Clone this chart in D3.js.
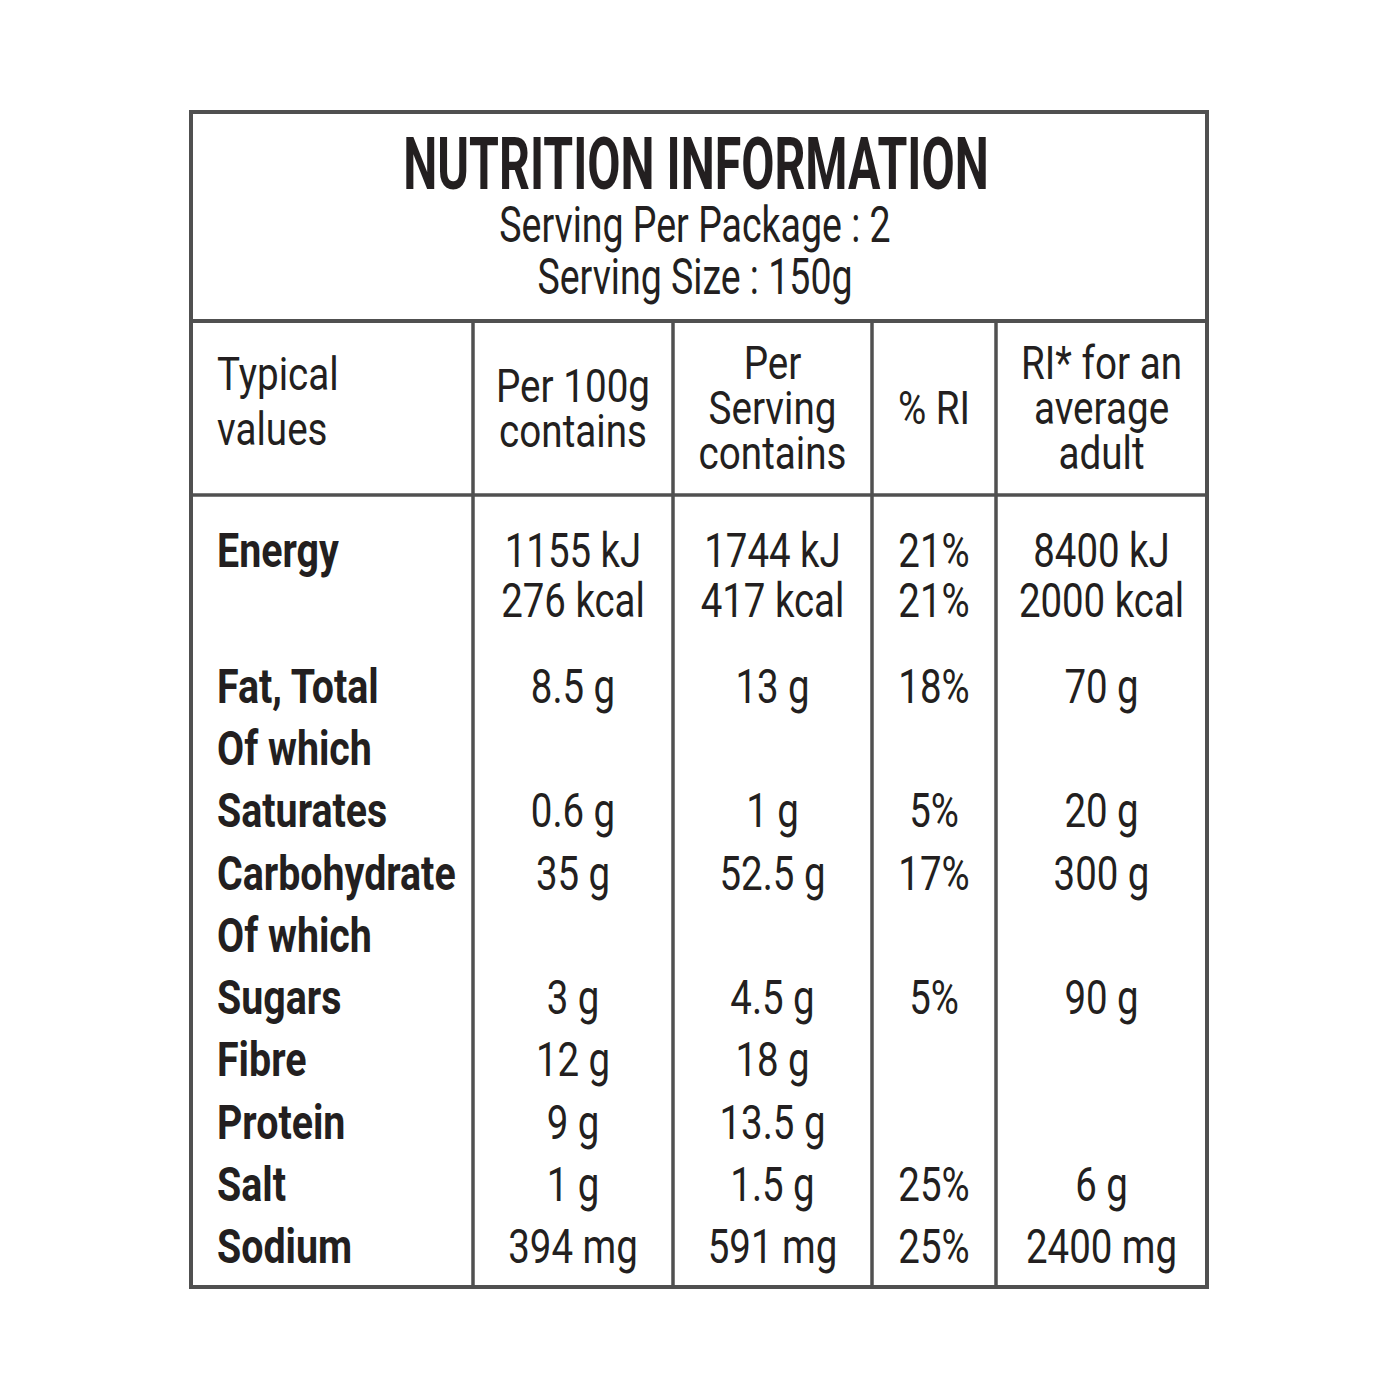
<!DOCTYPE html>
<html lang="en">
<head>
<meta charset="UTF-8">
<title>Nutrition Information</title>
<script src="https://d3js.org/d3.v7.min.js"></script>
<style>
  body { margin: 0; background: #fff; }
  text { font-family: Roboto, "DejaVu Sans Condensed", sans-serif; fill: #231f20; }
</style>
</head>
<body>
<script>
  // data
  const title = "NUTRITION INFORMATION";
  const subtitles = ["Serving Per Package : 2", "Serving Size : 150g"];
  const headers = [
    ["Typical", "values"],
    ["Per 100g", "contains"],
    ["Per", "Serving", "contains"],
    ["% RI"],
    ["RI* for an", "average", "adult"]
  ];
  const energyPer100 = ["1155 kJ", "276 kcal"];
  const energyPerServing = ["1744 kJ", "417 kcal"];
  const energyRI = ["21%", "21%"];
  const energyRef = ["8400 kJ", "2000 kcal"];
  const nutrients = ["Fat, Total", "Of which", "Saturates", "Carbohydrate", "Of which", "Sugars", "Fibre", "Protein", "Salt", "Sodium"];
  const per100 = ["8.5 g", "", "0.6 g", "35 g", "", "3 g", "12 g", "9 g", "1 g", "394 mg"];
  const perServing = ["13 g", "", "1 g", "52.5 g", "", "4.5 g", "18 g", "13.5 g", "1.5 g", "591 mg"];
  const pctRI = ["18%", "", "5%", "17%", "", "5%", "", "", "25%", "25%"];
  const refIntake = ["70 g", "", "20 g", "300 g", "", "90 g", "", "", "6 g", "2400 mg"];

  const W = 1400, H = 1400;
  const box = { left: 191, right: 1207, top: 112, bottom: 1287 };
  const headSep = 321, colHeadSep = 495;
  const colEdges = [box.left, 473, 673, 872, 996, box.right];
  const stroke = "#505050";

  // text styles: the label font is a condensed DIN, so squeeze Roboto horizontally
  const styles = {
    title: { size: 72, weight: 700, sx: 0.67 },
    sub:   { size: 50, weight: 400, sx: 0.75 },
    head:  { size: 46, weight: 400, sx: 0.84 },
    label: { size: 48, weight: 700, sx: 0.82 },
    value: { size: 48, weight: 400, sx: 0.8 }
  };

  const svg = d3.select("body").append("svg")
    .attr("width", W).attr("height", H);

  function addText(x, y, str, style, anchor) {
    const s = styles[style];
    return svg.append("text")
      .attr("transform", "translate(" + x + "," + y + ") scale(" + s.sx + ",1)")
      .attr("text-anchor", anchor || "middle")
      .attr("font-size", s.size)
      .attr("font-weight", s.weight)
      .text(str);
  }

  // lines
  svg.append("rect")
    .attr("x", box.left).attr("y", box.top)
    .attr("width", box.right - box.left).attr("height", box.bottom - box.top)
    .attr("fill", "none").attr("stroke", stroke).attr("stroke-width", 4);
  svg.append("line")
    .attr("x1", box.left).attr("x2", box.right).attr("y1", headSep).attr("y2", headSep)
    .attr("stroke", stroke).attr("stroke-width", 4);
  svg.append("line")
    .attr("x1", box.left).attr("x2", box.right).attr("y1", colHeadSep).attr("y2", colHeadSep)
    .attr("stroke", stroke).attr("stroke-width", 3.5);
  svg.selectAll("line.col")
    .data(colEdges.slice(1, -1))
    .enter().append("line").attr("class", "col")
    .attr("x1", d => d).attr("x2", d => d)
    .attr("y1", headSep).attr("y2", box.bottom)
    .attr("stroke", stroke).attr("stroke-width", 3.5);

  // title block
  const cx = (box.left + box.right) / 2;
  addText(cx - 3, 189, title, "title");
  subtitles.forEach((d, i) => addText(cx - 4, 242 + i * 52, d, "sub"));

  const colCenter = i => (colEdges[i] + colEdges[i + 1]) / 2;
  const labelX = 217;

  // column headers
  headers.forEach((lines, i) => {
    if (i === 0) {
      lines.forEach((d, j) => addText(labelX, 390 + j * 55, d, "head", "start"));
    } else {
      lines.forEach((d, j) => addText(colCenter(i), 424 + (j - (lines.length - 1) / 2) * 45, d, "head"));
    }
  });

  // energy rows
  const energyY = d3.scaleLinear().domain([0, 1]).range([567, 617]);
  addText(labelX, energyY(0), "Energy", "label", "start");
  [energyPer100, energyPerServing, energyRI, energyRef].forEach((vals, c) => {
    vals.forEach((d, j) => addText(colCenter(c + 1), energyY(j), d, "value"));
  });

  // nutrient rows
  const rowY = d3.scaleLinear().domain([0, nutrients.length - 1]).range([703, 1263]);
  nutrients.forEach((d, i) => addText(labelX, rowY(i), d, "label", "start"));
  [per100, perServing, pctRI, refIntake].forEach((vals, c) => {
    vals.forEach((d, i) => { if (d) addText(colCenter(c + 1), rowY(i), d, "value"); });
  });
</script>
</body>
</html>
